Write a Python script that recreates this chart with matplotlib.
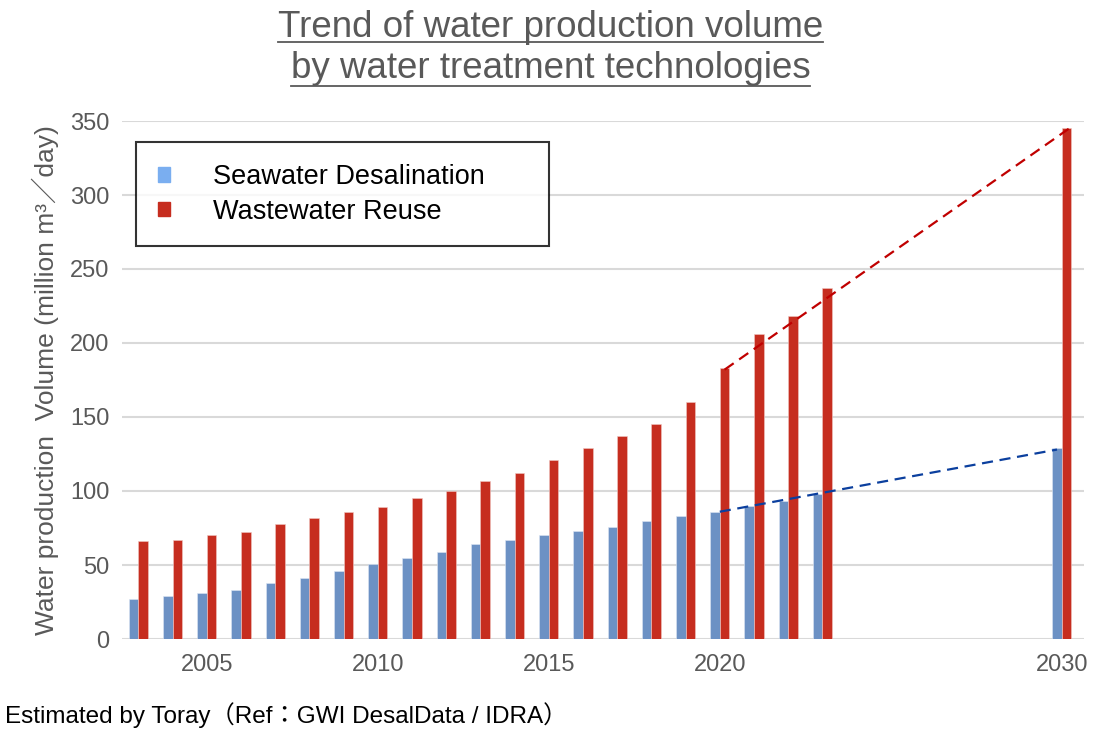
import matplotlib
matplotlib.use("Agg")
import matplotlib.pyplot as plt
from matplotlib.lines import Line2D
from matplotlib.patches import Patch

years = [2003, 2004, 2005, 2006, 2007, 2008, 2009, 2010, 2011, 2012, 2013,
         2014, 2015, 2016, 2017, 2018, 2019, 2020, 2021, 2022, 2023, 2030]
seawater = [27, 29, 31, 33, 38, 41, 46, 51, 55, 59, 64,
            67, 70, 73, 76, 80, 83, 86, 90, 93, 98, 129]
wastewater = [66, 67, 70, 72, 78, 82, 86, 89, 95, 100, 107,
              112, 121, 129, 137, 145, 160, 183, 206, 218, 237, 345]
tick_years = [2005, 2010, 2015, 2020, 2030]
trend_years = [2020, 2030]
trend_sea = [86, 128]
trend_waste = [182, 346]

plt.rcParams['font.family'] = ['Liberation Sans', 'Noto Sans CJK JP', 'DejaVu Sans']
gray = '#595959'
c_blue = '#6C91C4'
c_red = '#C62D1F'

fig = plt.figure(figsize=(11.01, 7.31), dpi=100)
ax = fig.add_axes([122/1101, 1-639/731, (1084-122)/1101, (639-121)/731])

w = 0.28
xb = [y - w/2 for y in years]
xr = [y + w/2 for y in years]
ax.bar(xb, seawater, width=w, color=c_blue, edgecolor='#dde6f3', linewidth=0.4, zorder=2)
ax.bar(xr, wastewater, width=w, color=c_red, edgecolor='#f0c8c3', linewidth=0.4, zorder=2)

# dashed trend lines 2020 -> 2030
ax.plot([trend_years[0], trend_years[1] - w/2], trend_sea, ls=(0, (5, 3)),
        color='#0B3F9E', lw=1.6, zorder=3)
ax.plot([trend_years[0] + w/2, trend_years[1] + w], trend_waste, ls=(0, (5, 3)),
        color='#C00000', lw=1.6, zorder=3)

ax.set_xlim(2002.52, 2030.65)
ax.set_ylim(0, 350)
ax.set_yticks(range(0, 351, 50))
ax.set_xticks(tick_years)
ax.yaxis.grid(True, color='#d9d9d9', lw=1.5, zorder=0)
ax.set_axisbelow(True)
for s in ax.spines.values():
    s.set_visible(False)
ax.tick_params(length=0, labelsize=17, labelcolor=gray)
ax.tick_params(axis='x', pad=11)
ax.tick_params(axis='y', pad=9)

ax.set_ylabel('Water production  Volume (million m³／day)', fontsize=19, color=gray, labelpad=8)

handles = [Patch(color='#7AAEF0', label='Seawater Desalination'),
           Patch(color=c_red, label='Wastewater Reuse')]
leg = ax.legend(handles=handles, loc='upper left', bbox_to_anchor=(0.01455, 0.0, 0.4293, 0.959),
                mode='expand', borderaxespad=0, fontsize=19.5, frameon=True, fancybox=False,
                handlelength=0.45, handleheight=0.45, handletextpad=1.6,
                borderpad=0.8, labelspacing=0.32)
leg.get_frame().set_edgecolor('black')
leg.get_frame().set_linewidth(1.5)

# title lines with underline
t1 = fig.text(0.5, 1-37/731, 'Trend of water production volume', ha='center', va='baseline',
              fontsize=26.5, color=gray)
t2 = fig.text(0.5, 1-78/731, 'by water treatment technologies', ha='center', va='baseline',
              fontsize=26.5, color=gray)
fig.canvas.draw()
r = fig.canvas.get_renderer()
for t, yu in [(t1, 42), (t2, 86)]:
    bb = t.get_window_extent(r)
    fig.add_artist(Line2D([bb.x0/1101, bb.x1/1101], [1-yu/731, 1-yu/731],
                          color=gray, lw=1.3, transform=fig.transFigure))

fig.text(5/1101, 1-723/731, 'Estimated by Toray（Ref：GWI DesalData / IDRA）',
         fontsize=17.5, color='black', ha='left', va='baseline')

fig.savefig('out.png', dpi=100)
